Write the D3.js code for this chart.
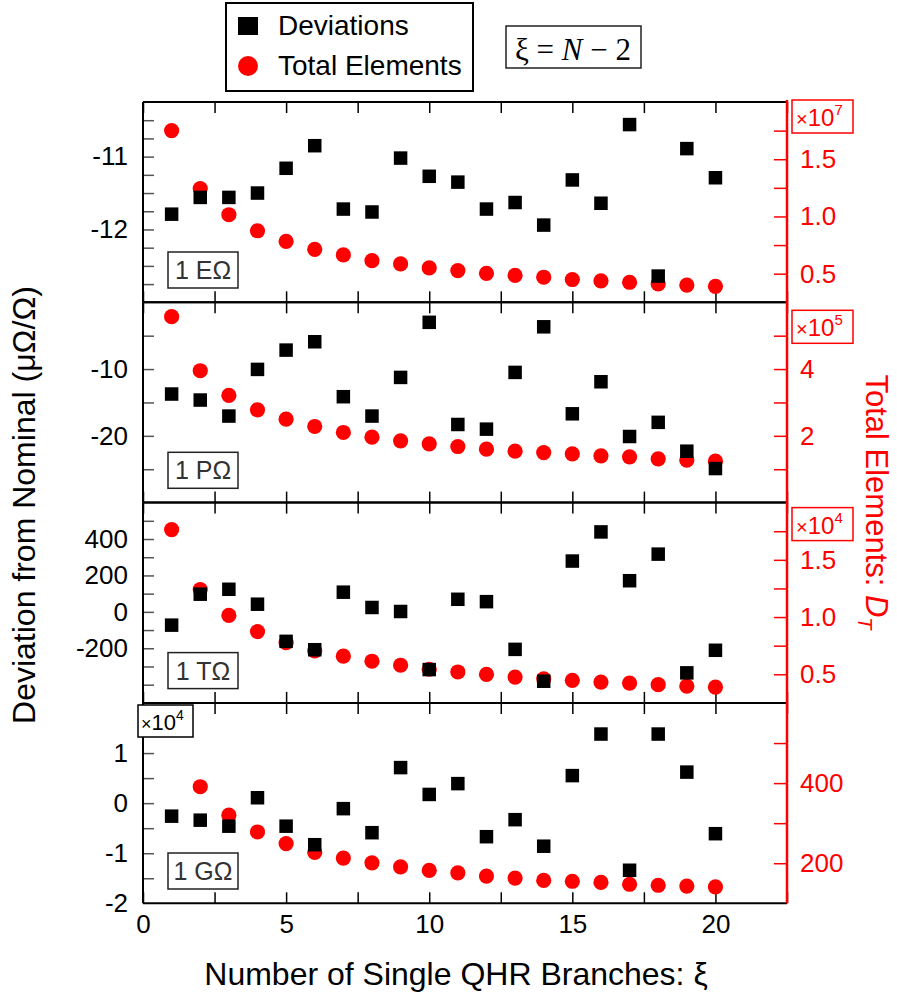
<!DOCTYPE html>
<html><head><meta charset="utf-8">
<script src="https://cdn.jsdelivr.net/npm/d3@7"></script>
<style>body{margin:0;background:#fff} svg{display:block}</style>
</head><body><svg id="c" width="897" height="1002"></svg>
<script>
// ---------- data ----------
const xi = [1,2,3,4,5,6,7,8,9,10,11,12,13,14,15,16,17,18,19,20];
const panelNames = ["1 EΩ", "1 PΩ", "1 TΩ", "1 GΩ"];
const devE = [-11.79,-11.56,-11.56,-11.50,-11.16,-10.85,-11.72,-11.76,-11.02,-11.27,-11.35,-11.72,-11.63,-11.94,-11.32,-11.64,-10.56,-12.64,-10.89,-11.29];
const totE = [1.75,1.244,1.015,0.875,0.782,0.713,0.664,0.614,0.585,0.55,0.527,0.503,0.485,0.469,0.449,0.437,0.425,0.411,0.40,0.39];
const devP = [-13.74,-14.64,-17.04,-10.05,-7.16,-5.91,-14.14,-17.04,-11.25,-3.0,-18.3,-19.0,-10.5,-3.67,-16.7,-11.9,-20.1,-17.98,-22.3,-24.9];
const totP = [5.57,3.95,3.21,2.78,2.50,2.28,2.10,1.96,1.85,1.76,1.68,1.60,1.54,1.50,1.46,1.40,1.37,1.31,1.27,1.24];
const devT = [-73,97,124,42,-162,-208,108,24,2,-317,69,56,-206,-381,279,439,171,317,-335,-211];
const totT = [1.764,1.24,1.014,0.873,0.776,0.705,0.658,0.614,0.579,0.544,0.52,0.50,0.476,0.46,0.447,0.432,0.423,0.409,0.396,0.387];
const devG = [-0.26,-0.34,-0.46,0.108,-0.46,-0.83,-0.11,-0.59,0.71,0.174,0.39,-0.67,-0.33,-0.86,0.55,1.38,-1.34,1.38,0.62,-0.61];
const totG = [552,391,320,278,249,227,213,201,191,182,176,168,163,157,155,152,147.5,145,143,141];

const xTicks = [0,2.5,5,7.5,10,12.5,15,17.5,20,22.5];
const xLabels = [0,5,10,15,20];

const leftDomains = [[-13,-10.25],[-30,0],[-500,600],[-2,2]];
const leftTicks = [d3.range(-12.75,-10.3,0.25), d3.range(-25,0,5), d3.range(-400,600,100), d3.range(-1.5,2,0.5)];
const leftLabels = [[-11,-12],[-10,-20],[400,200,0,-200],[1,0,-1,-2]];
const rightDomains = [[0.25,2.0],[0,6],[0.25,2.0],[100,600]];
const rightTicks = [[0.5,0.75,1,1.25,1.5,1.75],[1,2,3,4,5],[0.5,0.75,1,1.25,1.5,1.75],[200,300,400,500]];
const rightLabels = [[0.5,1.0,1.5],[2,4],[0.5,1.0,1.5],[200,400]];
const rightFormats = [".1f","d",".1f","d"];
const rightExp = ["7","5","4",null];
const leftExp = [null,null,null,"4"];

// ---------- layout ----------
const svg = d3.select("#c");
const X0 = 143, X1 = 787;
const tops = [102, 302.3, 502.6, 703];
const PH = 200.3;
const RED = "#ff0000";
const FONT = "'Liberation Sans', Arial, sans-serif";

const x = d3.scaleLinear().domain([0,22.5]).range([X0,X1]);

const devs = [devE, devP, devT, devG];
const tots = [totE, totP, totT, totG];
const has = (arr, d) => arr.some(v => Math.abs(v-d) < 1e-9);

tops.forEach((top, i) => {
  const bot = top + PH;
  const yL = d3.scaleLinear().domain(leftDomains[i]).range([bot, top]);
  const yR = d3.scaleLinear().domain(rightDomains[i]).range([bot, top]);
  const g = svg.append("g");

  // x ticks top and bottom (inward)
  g.append("g").attr("transform", `translate(0,${bot})`)
    .call(d3.axisBottom(x).tickValues(xTicks).tickSize(-11).tickPadding(11)
      .tickFormat(i===3 ? (d => has(xLabels, d) ? String(d) : "") : () => ""))
    .call(a => a.select(".domain").remove())
    .call(a => a.selectAll("line").attr("stroke","#000").attr("stroke-width",1.5))
    .call(a => a.selectAll("text").attr("font-family",FONT).attr("font-size",26).attr("fill","#000"));
  g.append("g").attr("transform", `translate(0,${top})`)
    .call(d3.axisTop(x).tickValues(xTicks).tickSize(-11).tickFormat(() => ""))
    .call(a => a.select(".domain").remove())
    .call(a => a.selectAll("line").attr("stroke","#000").attr("stroke-width",1.5));

  // left axis
  g.append("g").attr("transform", `translate(${X0},0)`)
    .call(d3.axisLeft(yL).tickValues(leftTicks[i]).tickSize(-11).tickPadding(15)
      .tickFormat(d => has(leftLabels[i], d) ? String(d) : ""))
    .call(a => a.select(".domain").remove())
    .call(a => a.selectAll("line").attr("stroke","#555").attr("stroke-width",1.5))
    .call(a => a.selectAll("text").attr("font-family",FONT).attr("font-size",26).attr("fill","#000"));
  if (i === 3) {
    g.append("text").attr("x", X0-15).attr("y", yL(-2)).attr("dy","0.32em").attr("text-anchor","end")
      .attr("font-family",FONT).attr("font-size",26).text("-2");
  }

  // right axis
  const rf = d3.format(rightFormats[i]);
  g.append("g").attr("transform", `translate(${X1},0)`)
    .call(d3.axisRight(yR).tickValues(rightTicks[i]).tickSize(-13).tickPadding(13)
      .tickFormat(d => has(rightLabels[i], d) ? rf(d) : ""))
    .call(a => a.select(".domain").remove())
    .call(a => a.selectAll("line").attr("stroke",RED).attr("stroke-width",1.5))
    .call(a => a.selectAll("text").attr("font-family",FONT).attr("font-size",26).attr("fill",RED));

  // frame
  g.append("line").attr("x1",X0).attr("x2",X1).attr("y1",top).attr("y2",top).attr("stroke","#000").attr("stroke-width",2);
  g.append("line").attr("x1",X0).attr("x2",X1).attr("y1",bot).attr("y2",bot).attr("stroke","#000").attr("stroke-width",2);
  g.append("line").attr("x1",X0).attr("x2",X0).attr("y1",top).attr("y2",bot).attr("stroke","#000").attr("stroke-width",2);

  // circles (total elements)
  g.append("g").selectAll("circle").data(xi).join("circle")
    .attr("cx", d => x(d)).attr("cy", (d,j) => yR(tots[i][j])).attr("r", 7.6).attr("fill", RED);
  // squares (deviations)
  const s = 13.5;
  g.append("g").selectAll("rect").data(xi).join("rect")
    .attr("x", d => x(d)-s/2).attr("y", (d,j) => yL(devs[i][j])-s/2).attr("width", s).attr("height", s).attr("fill","#000");

  // panel label box
  g.append("rect").attr("x",168).attr("y",top+150).attr("width",70).attr("height",36)
    .attr("fill","#fff").attr("stroke","#222").attr("stroke-width",1.5);
  g.append("text").attr("x",203).attr("y",top+177).attr("text-anchor","middle")
    .attr("font-family",FONT).attr("font-size",25).attr("fill","#333").text(panelNames[i]);

  // exponent boxes
  if (rightExp[i]) {
    const by = i===0 ? 100 : (i===1 ? top+8 : top+5);
    g.append("rect").attr("x",792).attr("y",by).attr("width",61).attr("height",33)
      .attr("fill","#fff").attr("stroke",RED).attr("stroke-width",1.5);
    const t = g.append("text").attr("x",796).attr("y",by+26).attr("font-family",FONT).attr("font-size",24).attr("fill",RED);
    t.append("tspan").attr("font-size",20).text("×");
    t.append("tspan").text("10");
    t.append("tspan").attr("font-size",15).attr("dy",-11).text(rightExp[i]);
  }
  if (leftExp[i]) {
    g.append("rect").attr("x",138).attr("y",top+2).attr("width",55).attr("height",32)
      .attr("fill","#fff").attr("stroke","#000").attr("stroke-width",1.5);
    const t = g.append("text").attr("x",141).attr("y",top+27).attr("font-family",FONT).attr("font-size",22).attr("fill","#000");
    t.append("tspan").attr("font-size",18).text("×");
    t.append("tspan").text("10");
    t.append("tspan").attr("font-size",14).attr("dy",-10).text(leftExp[i]);
  }
});

// red right spine
svg.append("line").attr("x1",X1).attr("x2",X1).attr("y1",tops[0]-2).attr("y2",tops[3]+PH).attr("stroke",RED).attr("stroke-width",2.5);

// axis titles
svg.append("text").attr("x",456).attr("y",985).attr("text-anchor","middle")
  .attr("font-family",FONT).attr("font-size",32).attr("fill","#000").text("Number of Single QHR Branches: ξ");
svg.append("text").attr("transform","translate(35,505) rotate(-90)").attr("text-anchor","middle")
  .attr("font-family",FONT).attr("font-size",32).attr("fill","#000").text("Deviation from Nominal (μΩ/Ω)");
const rt = svg.append("text").attr("transform","translate(866,502) rotate(90)").attr("text-anchor","middle")
  .attr("font-family",FONT).attr("font-size",31).attr("fill",RED);
rt.append("tspan").text("Total Elements: ");
rt.append("tspan").attr("font-style","italic").text("D");
rt.append("tspan").attr("font-style","italic").attr("font-size",20).attr("dy",8).text("T");

// legend
svg.append("rect").attr("x",226).attr("y",3).attr("width",247).attr("height",88).attr("fill","#fff").attr("stroke","#000").attr("stroke-width",2);
svg.append("rect").attr("x",238).attr("y",17).attr("width",20).attr("height",18).attr("fill","#000");
svg.append("circle").attr("cx",248).attr("cy",66).attr("r",10).attr("fill",RED);
svg.append("text").attr("x",278).attr("y",35).attr("font-family",FONT).attr("font-size",28).text("Deviations");
svg.append("text").attr("x",278).attr("y",75).attr("font-family",FONT).attr("font-size",28).text("Total Elements");

// equation box
svg.append("rect").attr("x",506).attr("y",26).attr("width",135).attr("height",42).attr("fill","#fff").attr("stroke","#222").attr("stroke-width",1.5);
const eq = svg.append("text").attr("x",573).attr("y",60).attr("text-anchor","middle")
  .attr("font-family","'Liberation Serif', 'Times New Roman', serif").attr("font-size",31).attr("fill","#000");
eq.append("tspan").text("ξ = ");
eq.append("tspan").attr("font-style","italic").text("N");
eq.append("tspan").text(" − 2");
</script></body></html>
